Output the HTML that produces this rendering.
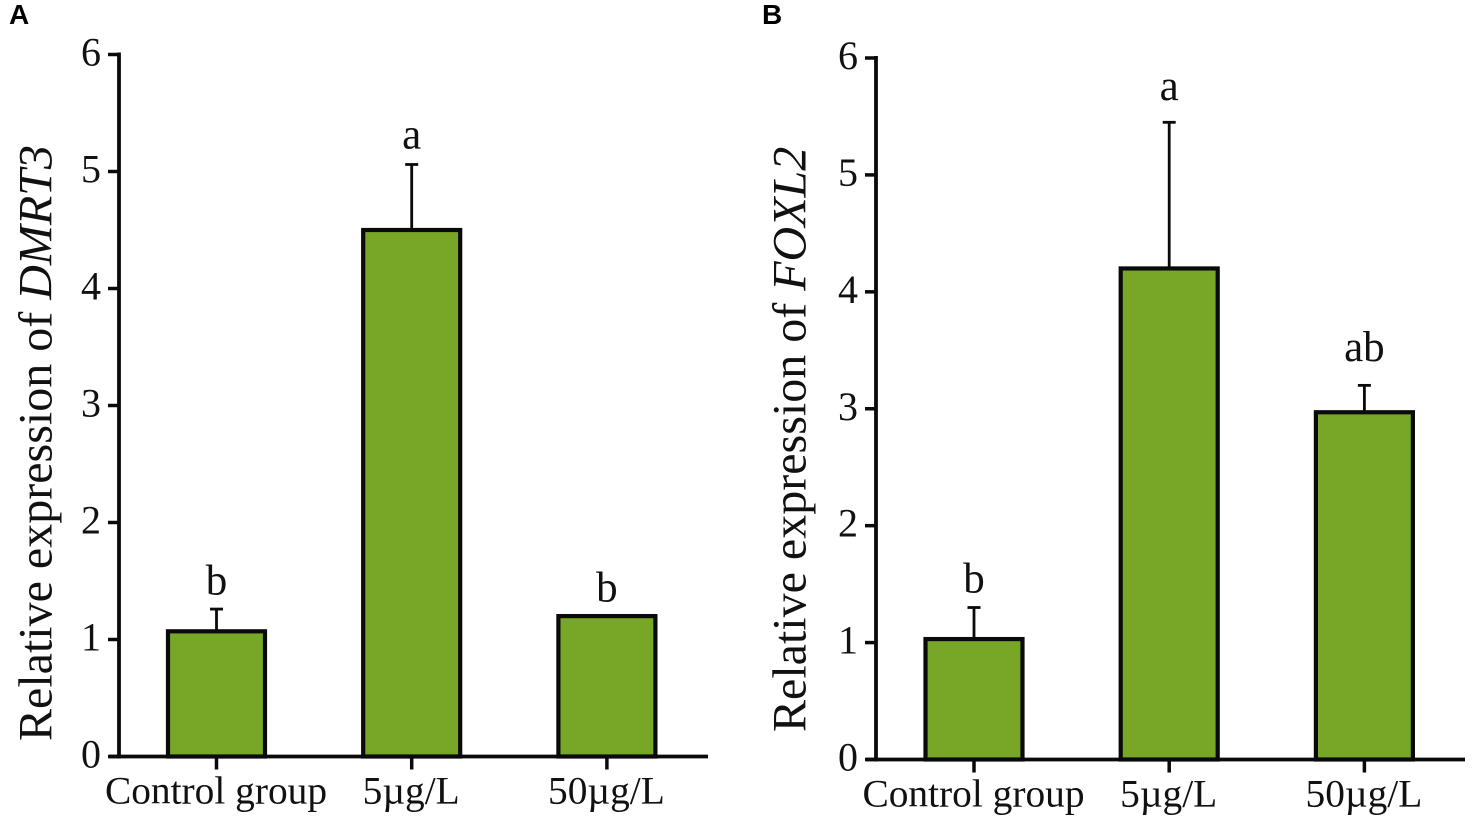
<!DOCTYPE html>
<html lang="en">
<head>
<meta charset="utf-8">
<title>Relative expression of DMRT3 and FOXL2</title>
<style>
html,body{margin:0;padding:0;background:#fff;}
svg{display:block;}
text{font-family:"Liberation Serif",serif;fill:#111;}
.panel-letter{font-family:"Liberation Sans",sans-serif;font-weight:700;font-size:28px;fill:#000;}
</style>
</head>
<body>
<svg id="figure" xmlns="http://www.w3.org/2000/svg" width="1476" height="822" viewBox="0 0 1476 822">
<rect width="1476" height="822" fill="#fff"/>
</svg>
<script>
const categories = ['Control group', '5µg/L', '50µg/L'];
const yTicks = [0, 1, 2, 3, 4, 5, 6];
const dmrt3Values = [1.07, 4.5, 1.2];
const dmrt3Errors = [0.19, 0.56, 0];
const dmrt3Letters = ['b', 'a', 'b'];
const dmrt3LetterGaps = [0.125, 0.137, 0.125];
const foxl2Values = [1.03, 4.2, 2.97];
const foxl2Errors = [0.27, 1.25, 0.23];
const foxl2Letters = ['b', 'a', 'ab'];
const foxl2LetterGaps = [0.13, 0.19, 0.21];

const NS = 'http://www.w3.org/2000/svg';
const svg = document.getElementById('figure');

function make(tag, attrs, parent, content) {
  const el = document.createElementNS(NS, tag);
  for (const k in attrs) el.setAttribute(k, attrs[k]);
  if (content !== undefined) el.textContent = content;
  parent.appendChild(el);
  return el;
}

function drawPanel(cfg) {
  const g = make('g', {}, svg);
  
  

  const yScale = v => cfg.y0 + (cfg.y6 - cfg.y0) * v / 6;
  const xScale = i => cfg.x0 + cfg.step * i;
  const halfBar = 48.5;

  const letter = make('text', {x: cfg.letterX, y: 24, class: 'panel-letter'}, g, cfg.id);
  
  

  cfg.values.forEach((v, i) => {
    const cx = xScale(i);
    const top = yScale(v);
    const errTop = yScale(v + cfg.errors[i]);
    if (cfg.errors[i] > 0) {
      const stem = make('line', {x1: cx, x2: cx, y1: top, y2: errTop, stroke: '#0a0a0a', 'stroke-width': 2.8}, g);
      
      
      const cap = make('line', {x1: cx - 6.5, x2: cx + 6.5, y1: errTop, y2: errTop, stroke: '#0a0a0a', 'stroke-width': 2.8}, g);
      
      
    }
    const bar = make('rect', {x: cx - halfBar, y: top, width: halfBar * 2, height: cfg.y0 - top, fill: '#78a627', stroke: '#0a0a0a', 'stroke-width': 4.2}, g);
    
    

    const sig = make('text', {x: cx, y: yScale(v + cfg.errors[i] + cfg.gaps[i]), 'text-anchor': 'middle', 'font-size': 43}, g, cfg.letters[i]);
    
    

    const tick = make('line', {x1: cx, x2: cx, y1: cfg.y0, y2: cfg.y0 + 13, stroke: '#0a0a0a', 'stroke-width': 3.5}, g);
    
    

    const lab = make('text', {x: cx - 0.5, y: cfg.y0 + 47, 'text-anchor': 'middle', 'font-size': 39.4}, g, categories[i]);
    
    
  });

  const xAxis = make('line', {x1: cfg.axisX - 10, x2: cfg.xEnd, y1: cfg.y0, y2: cfg.y0, stroke: '#0a0a0a', 'stroke-width': 3.8}, g);
  
  

  const yAxis = make('line', {x1: cfg.axisX, x2: cfg.axisX, y1: cfg.y6 - 2, y2: cfg.y0 + 2, stroke: '#0a0a0a', 'stroke-width': 3.8}, g);
  
  

  yTicks.forEach(t => {
    const y = yScale(t);
    const tk = make('line', {x1: cfg.axisX - 11, x2: cfg.axisX, y1: y, y2: y, stroke: '#0a0a0a', 'stroke-width': 3.5}, g);
    
    
    const lb = make('text', {x: cfg.axisX - 18, y: y + 11, 'text-anchor': 'end', 'font-size': 40}, g, t);
    
    
  });

  const title = make('text', {transform: 'translate(' + cfg.titleX + ',' + cfg.titleY + ') rotate(-90)', 'font-size': 48}, g);
  
  
  make('tspan', {}, title, 'Relative expression of ');
  make('tspan', {'font-style': 'italic'}, title, cfg.gene);
}

drawPanel({id: 'A', letterX: 9, gene: 'DMRT3', values: dmrt3Values, errors: dmrt3Errors, letters: dmrt3Letters, gaps: dmrt3LetterGaps,
  x0: 216.5, step: 195.2, y0: 756.5, y6: 54.5, axisX: 119, xEnd: 708, titleX: 51.5, titleY: 741});
drawPanel({id: 'B', letterX: 762, gene: 'FOXL2', values: foxl2Values, errors: foxl2Errors, letters: foxl2Letters, gaps: foxl2LetterGaps,
  x0: 974, step: 195.2, y0: 759.5, y6: 58, axisX: 876, xEnd: 1465, titleX: 805.5, titleY: 732});
</script>
</body>
</html>
